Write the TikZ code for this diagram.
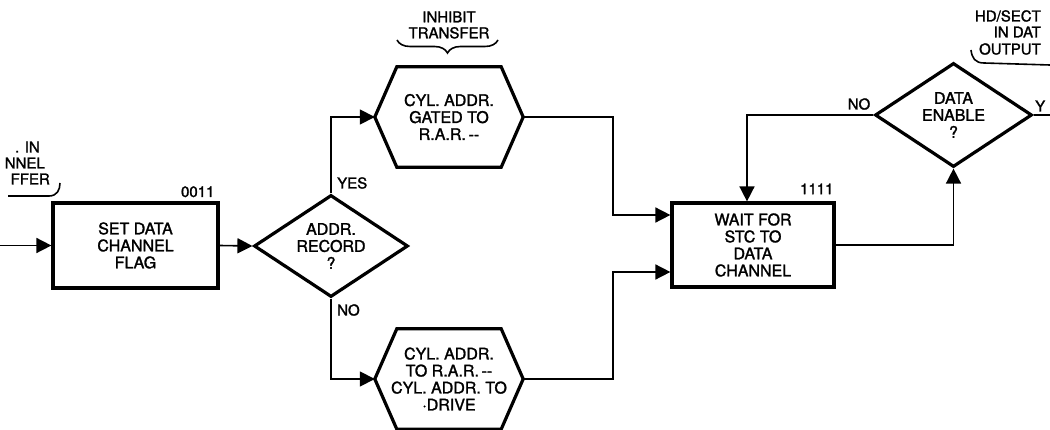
\documentclass[tikz,border=0pt]{standalone}
\usepackage{fontspec}
\setmainfont[FakeBold=1.6,AutoFakeBold=1.6]{TeX Gyre Heros}
\usetikzlibrary{shapes.geometric,arrows.meta,decorations.pathreplacing}
\newcommand\boxfont{\fontsize{16}{17}\selectfont\bfseries}
\newcommand\notefont{\fontsize{15}{16}\selectfont\bfseries}
\newcommand\numfont{\fontsize{15}{16}\selectfont\bfseries}
\tikzset{outline/.style={line width=3.2pt},
  line/.style={line width=1.6pt},
  flow/.style={line, -{Triangle[length=15pt,width=15pt]}},
  procbox/.style={draw, outline, rectangle, minimum width=165pt, minimum height=85pt, align=center, font=\boxfont},
  decide/.style={draw, outline, diamond, aspect=1.5, inner sep=0pt, minimum width=154pt, minimum height=102pt, align=center, font=\boxfont},
  hexnode/.style={rectangle, inner sep=0pt, minimum width=148pt, minimum height=100pt, align=center, font=\boxfont},
  note/.style={inner sep=1pt, align=center, font=\notefont},
  numlbl/.style={inner sep=1pt, font=\numfont}}
\begin{document}
\begin{tikzpicture}[x=1pt,y=-1pt]
  \useasboundingbox (0,0) rectangle (1050,430);
  \clip (0,0) rectangle (1050,430);
  % boxes
  \node[procbox] (setflag) at (135.5,245.5) {SET DATA\\CHANNEL\\FLAG};
  \node[procbox, minimum width=162pt, minimum height=84pt] (waitstc) at (753,245) {WAIT FOR\\STC TO\\DATA\\CHANNEL};
  % decisions
  \node[decide] (addrrec) at (331,246) {ADDR.\\RECORD\\?};
  \node[decide, minimum width=157pt, minimum height=104pt] (dataen) at (953.5,115) {DATA\\ENABLE\\?};
  % hexagons
  \node[hexnode] (gated) at (449,117) {CYL. ADDR.\\GATED TO\\R.A.R.\,-{}-};
  \node[hexnode] (todrive) at (449,379) {CYL. ADDR.\\TO R.A.R.\,-{}-\\CYL. ADDR. TO\\·DRIVE};
  \foreach \h in {gated,todrive}
    \draw[outline] (\h.west) -- ([xshift=22pt]\h.north west) -- ([xshift=-22pt]\h.north east)
      -- (\h.east) -- ([xshift=-22pt]\h.south east) -- ([xshift=22pt]\h.south west) -- cycle;
  % connectors
  \coordinate (in) at (0,245.5);
  \coordinate (out) at (1050,115);
  \draw[flow] (in) -- (setflag.west);
  \draw[flow] (setflag.east) -- (addrrec.west);
  \draw[flow] (addrrec.north) |- (gated.west);
  \draw[flow] (addrrec.south) |- (todrive.west);
  \draw[flow] (gated.east) -- ++(90,0) |- ([yshift=30pt]waitstc.west);
  \draw[flow] (todrive.east) -- ++(90,0) |- ([yshift=-27pt]waitstc.west);
  \draw[flow] (waitstc.east) -| (dataen.south);
  \draw[flow] (dataen.west) -| ([xshift=-6pt]waitstc.north);
  \draw[line] (dataen.east) -- (out);
  % labels
  \node[note, anchor=west] at (336,183) {YES};
  \node[note, anchor=west] at (336,310) {NO};
  \node[note] at (859,104) {NO};
  \node[note, anchor=west] at (1034,106) {Y};
  \node[numlbl, anchor=south east] at ([xshift=-4pt,yshift=3pt]setflag.north east) {0011};
  \node[numlbl, anchor=south east] at ([xshift=-1pt,yshift=6pt]waitstc.north east) {1111};
  % notes
  \node[note] (inhibit) at (449,25) {INHIBIT\\TRANSFER};
  \draw[line, decorate, decoration={brace,amplitude=13pt}] (498,40) -- (397,40);
  \node[note, anchor=east] at (41,147) {. IN};
  \node[note, anchor=east] at (46,163) {NNEL};
  \node[note, anchor=east] at (51,179) {FFER};
  \draw[line] (8,196) -- (49,196) .. controls (57,196) and (60,190) .. (60,183);
  \node[note, anchor=east] at (1042,16) {HD/SECT};
  \node[note, anchor=east] at (1042,32) {IN DAT};
  \node[note, anchor=east] at (1042,49) {OUTPUT};
  \draw[line] (971,50) .. controls (972,58) and (975,63) .. (984,63) -- (1050,65);
\end{tikzpicture}
\end{document}
